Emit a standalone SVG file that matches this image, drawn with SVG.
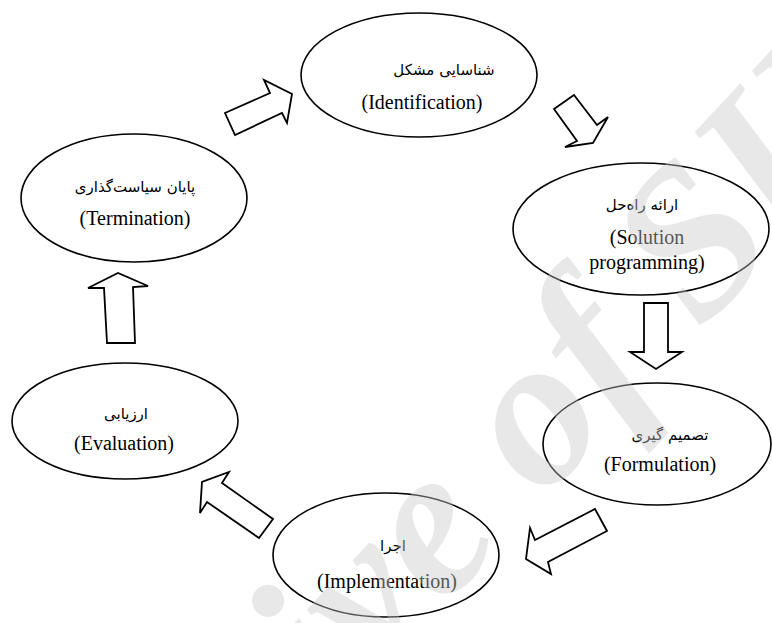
<svg xmlns="http://www.w3.org/2000/svg" width="772" height="623" viewBox="0 0 772 623">
<style>
.node ellipse{fill:none;stroke:#000;stroke-width:1.6}
.en{font-family:"Liberation Serif","Times New Roman",serif;font-size:20px;fill:#000;text-anchor:middle}
.fa{font-family:"DejaVu Sans","Noto Sans",sans-serif;font-size:15px;fill:#000;text-anchor:middle}
.arrow{fill:#fff;stroke:#000;stroke-width:1.8;stroke-linejoin:miter}
.wm{font-family:"Liberation Serif","Times New Roman",serif;font-weight:bold;font-style:italic;font-size:214px;fill:#c8c8c8;fill-opacity:0.42}
</style>
<rect width="772" height="623" fill="#fff"/>
<g id="connectors">
<polygon class="arrow" points="225,113 270,93 264,80 292,94 287,123 282,113 235,135"/>
<polygon class="arrow" points="554,109 574,95 597,125 608,117 593,143 565,147 577,141"/>
<polygon class="arrow" points="644,303 668,303 668,352 682,352 656,369 630,352 644,352"/>
<polygon class="arrow" points="595,509 607,531 548,562 551,574 526,559 530,528 535,540"/>
<polygon class="arrow" points="273,519 222,483 229,472 202,482 200,513 207,502 259,538"/>
<polygon class="arrow" points="107,343 135,343 133,287 148,286 118,273 88,288 104,288"/>
</g>
<g id="n1" class="node">
<ellipse cx="419" cy="75" rx="118" ry="62"/>
<text class="fa" x="444" y="75">شناسایی مشکل</text>
<text class="en" x="422" y="109">(Identification)</text>
</g>
<g id="n2" class="node">
<ellipse cx="641" cy="229" rx="128" ry="66"/>
<text class="fa" x="642" y="210">ارائه راه‌حل</text>
<text class="en" x="647" y="244">(Solution</text>
<text class="en" x="647" y="269">programming)</text>
</g>
<g id="n3" class="node">
<ellipse cx="657" cy="444" rx="114" ry="61"/>
<text class="fa" x="670" y="440">تصمیم گیری</text>
<text class="en" x="660" y="471">(Formulation)</text>
</g>
<g id="n4" class="node">
<ellipse cx="386" cy="555" rx="113" ry="62"/>
<text class="fa" x="393" y="551">اجرا</text>
<text class="en" x="387" y="588">(Implementation)</text>
</g>
<g id="n5" class="node">
<ellipse cx="125" cy="421" rx="113" ry="58"/>
<text class="fa" x="126" y="419">ارزیابی</text>
<text class="en" x="124" y="450">(Evaluation)</text>
</g>
<g id="n6" class="node">
<ellipse cx="134" cy="198" rx="113" ry="64"/>
<text class="fa" x="135" y="192">پایان سیاست‌گذاری</text>
<text class="en" x="135" y="225">(Termination)</text>
</g>
<text class="wm" transform="translate(36,1044) rotate(-47)">Archive of SID</text>
</svg>
